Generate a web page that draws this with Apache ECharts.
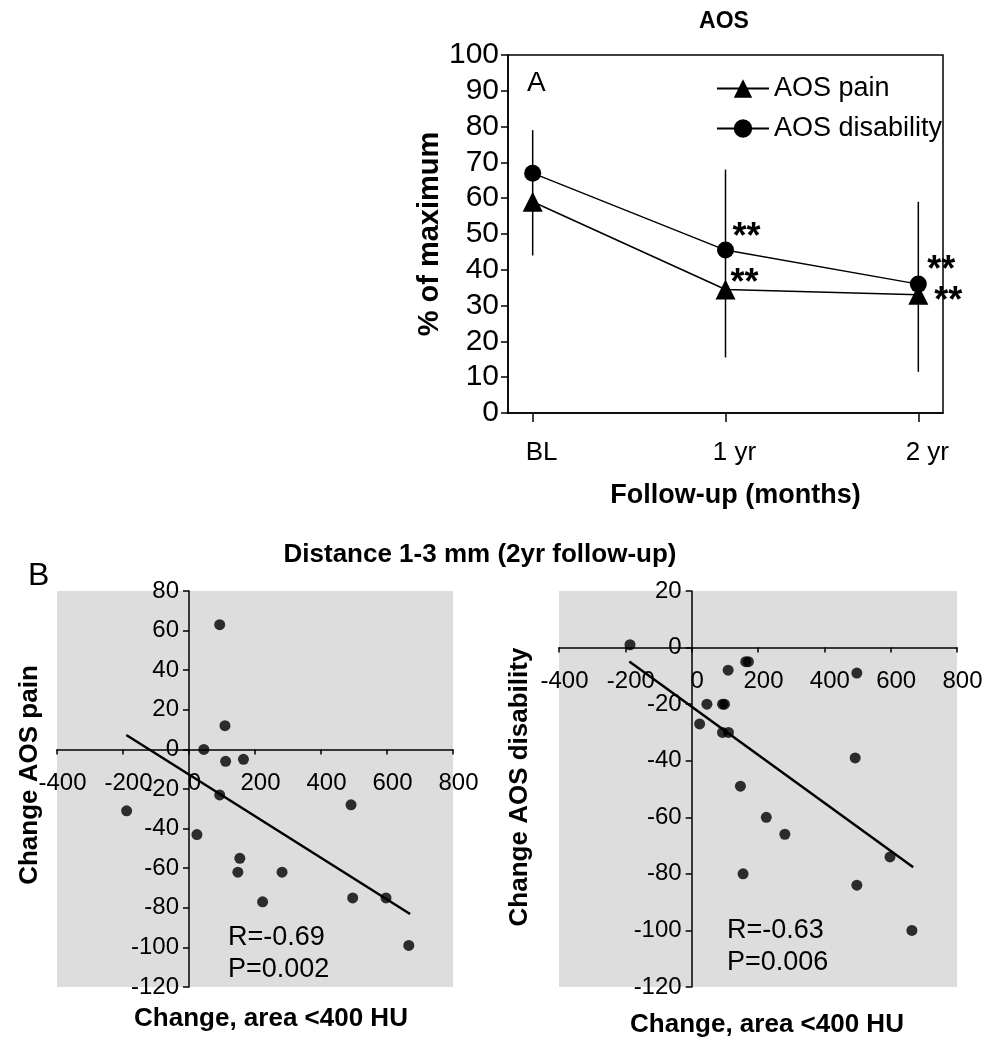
<!DOCTYPE html>
<html>
<head>
<meta charset="utf-8">
<script src="https://cdn.jsdelivr.net/npm/echarts@6/dist/echarts.min.js"></script>
<style>html,body{margin:0;padding:0;background:#fff}#c{width:995px;height:1050px}</style>
</head>
<body>
<div id="c"></div>
<script>
// ---- Panel A data ----
const tickLabels = ['BL', '1 yr', '2 yr'];
const followUp = [0, 1, 2];
const painMean = [59, 34.5, 33];
const disabilityMean = [67, 45.5, 36];
const disabilityUpper = [79, 68, 59];
const painLower = [44, 15.5, 11.5];
const painSig = ['', '**', '**'];
const disabilitySig = ['', '**', '**'];

// ---- Panel B data ----
const painX = [93, 109, 45, 111, 165, 93, -189, 24, 154, 148, 282, 223, 491, 496, 597, 666];
const painY = [63, 12, 0, -6, -5, -23, -31, -43, -55, -62, -62, -77, -28, -75, -75, -99];
const painTrendX = [-190, 670];
const painTrendY = [7.3, -83.1];
const painStats = ['R=-0.69', 'P=0.002'];

const disX = [-186, 163, 171, 110, 498, 46, 93, 99, 24, 93, 111, 493, 147, 225, 281, 598, 155, 498, 664];
const disY = [1, -5, -5, -8, -9, -20, -20, -20, -27, -30, -30, -39, -49, -60, -66, -74, -80, -84, -100];
const disTrendX = [-188, 668];
const disTrendY = [-4.9, -77.7];
const disStats = ['R=-0.63', 'P=0.006'];

const xRange = [-400, 800];
const painRange = [-120, 80];
const disRange = [-120, 20];

// ---- styling ----
const FONT = "'Liberation Sans', Arial, sans-serif";
const painSigOffset = [[0, 0], [19, -5], [30, 7]];
const disSigOffset = [[0, 0], [21, -12], [23, -13]];
const sigLabel = (txt, off) => ({
  show: !!txt, formatter: txt, position: 'inside', offset: off,
  fontSize: 36, fontWeight: 'bold', color: '#000', fontFamily: FONT
});

const gridsB = [
  {left: 57, top: 591, width: 396, height: 396},
  {left: 559, top: 591, width: 398, height: 396}
];

const chart = echarts.init(document.getElementById('c'), null, {renderer: 'canvas'});

const numLabel = (size, margin, extra) => Object.assign({color: '#000', fontSize: size, fontFamily: FONT, margin: margin}, extra || {});

// axes crossing at zero: shift each axis line to the other axis' zero
const scatterX = (grid, yr) => ({
  gridIndex: grid, type: 'value', min: xRange[0], max: xRange[1], interval: 200,
  position: 'bottom',
  offset: -(0 - yr[0]) / (yr[1] - yr[0]) * gridsB[grid - 1].height,
  axisLine: {show: true, onZero: false, lineStyle: {color: '#000', width: 1.5}},
  axisTick: {show: true, length: 5, lineStyle: {color: '#000', width: 1.5}},
  axisLabel: numLabel(24, 22, {padding: [0, 0, 0, 11]}),
  splitLine: {show: false}
});
const scatterY = (grid, yr) => ({
  gridIndex: grid, type: 'value', min: yr[0], max: yr[1], interval: 20,
  position: 'left',
  offset: -(0 - xRange[0]) / (xRange[1] - xRange[0]) * gridsB[grid - 1].width,
  axisLine: {show: true, onZero: false, lineStyle: {color: '#000', width: 1.5}},
  axisTick: {show: true, length: 6, lineStyle: {color: '#000', width: 1.5}},
  axisLabel: numLabel(24, 10, {padding: [9, 0, 0, 0]}),
  splitLine: {show: false}
});

const option = {
  animation: false,
  backgroundColor: '#fff',
  textStyle: {fontFamily: FONT},
  title: [
    {text: 'AOS', left: 724, top: 10, textAlign: 'center', padding: 0,
     textStyle: {fontSize: 23, fontWeight: 'bold', color: '#000', fontFamily: FONT}},
    {text: 'Distance 1-3 mm (2yr follow-up)', left: 480, top: 542, textAlign: 'center', padding: 0,
     textStyle: {fontSize: 26, fontWeight: 'bold', color: '#000', fontFamily: FONT}}
  ],
  legend: {
    data: ['AOS pain', 'AOS disability'],
    orient: 'vertical', left: 716, top: 75, padding: 0,
    itemWidth: 52, itemHeight: 23, itemGap: 13,
    textStyle: {fontSize: 27, color: '#000', fontFamily: FONT}
  },
  grid: [
    {left: 508, top: 55, width: 435, height: 358, show: true, borderColor: '#000', borderWidth: 1.5, backgroundColor: 'transparent'},
    Object.assign({show: true, borderWidth: 0, backgroundColor: '#dddddd'}, gridsB[0]),
    Object.assign({show: true, borderWidth: 0, backgroundColor: '#dddddd'}, gridsB[1])
  ],
  xAxis: [
    {gridIndex: 0, type: 'value', min: -0.128, max: 2.128,
     axisLine: {show: true, onZero: false, lineStyle: {color: '#000', width: 1.5}},
     axisTick: {show: true, length: 9, customValues: followUp, lineStyle: {color: '#000', width: 1.5}},
     axisLabel: numLabel(26, 27, {customValues: followUp, padding: [0, 0, 0, 18], formatter: v => tickLabels[Math.round(v)]}),
     splitLine: {show: false},
     name: 'Follow-up (months)', nameLocation: 'middle', nameGap: 69,
     nameTextStyle: {fontSize: 27, fontWeight: 'bold', color: '#000', fontFamily: FONT, padding: [0, 0, 0, 20]}},
    scatterX(1, painRange),
    scatterX(2, disRange)
  ],
  yAxis: [
    {gridIndex: 0, type: 'value', min: 0, max: 100, interval: 10,
     axisLine: {show: true, onZero: false, lineStyle: {color: '#000', width: 1.5}},
     axisTick: {show: true, length: 7, lineStyle: {color: '#000', width: 1.5}},
     axisLabel: numLabel(30, 9),
     splitLine: {show: false},
     name: '% of maximum', nameLocation: 'middle', nameGap: 64, nameRotate: 90,
     nameTextStyle: {fontSize: 29, fontWeight: 'bold', color: '#000', fontFamily: FONT}},
    scatterY(1, painRange),
    scatterY(2, disRange)
  ],
  series: [
    {type: 'custom', xAxisIndex: 0, yAxisIndex: 0, z: 1, silent: true,
     data: followUp.map((x, i) => [x, painLower[i], disabilityUpper[i]]),
     encode: {x: 0, y: [1, 2]},
     renderItem: (params, api) => {
       const lo = api.coord([api.value(0), api.value(1)]);
       const hi = api.coord([api.value(0), api.value(2)]);
       return {type: 'line', shape: {x1: lo[0], y1: lo[1], x2: hi[0], y2: hi[1]}, style: {stroke: '#000', lineWidth: 1.5}};
     }},
    {name: 'AOS pain', type: 'line', xAxisIndex: 0, yAxisIndex: 0, z: 3,
     symbol: 'triangle', symbolSize: 20, color: '#000',
     itemStyle: {color: '#000'}, lineStyle: {color: '#000', width: 1.5},
     data: followUp.map((x, i) => ({value: [x, painMean[i]], label: sigLabel(painSig[i], painSigOffset[i])}))},
    {name: 'AOS disability', type: 'line', xAxisIndex: 0, yAxisIndex: 0, z: 3,
     symbol: 'circle', symbolSize: 17, color: '#000',
     itemStyle: {color: '#000'}, lineStyle: {color: '#000', width: 1.5},
     data: followUp.map((x, i) => ({value: [x, disabilityMean[i]], label: sigLabel(disabilitySig[i], disSigOffset[i])}))},

    {type: 'scatter', xAxisIndex: 1, yAxisIndex: 1, symbolSize: 11, itemStyle: {color: '#000'},
     data: painX.map((x, i) => [x, painY[i]])},
    {type: 'line', xAxisIndex: 1, yAxisIndex: 1, symbol: 'none', lineStyle: {color: '#000', width: 2.5},
     data: painTrendX.map((x, i) => [x, painTrendY[i]])},

    {type: 'scatter', xAxisIndex: 2, yAxisIndex: 2, symbolSize: 11, itemStyle: {color: '#000'},
     data: disX.map((x, i) => [x, disY[i]])},
    {type: 'line', xAxisIndex: 2, yAxisIndex: 2, symbol: 'none', lineStyle: {color: '#000', width: 2.5},
     data: disTrendX.map((x, i) => [x, disTrendY[i]])}
  ],
  graphic: [
    {type: 'text', left: 527, top: 69, style: {text: 'A', fontSize: 28, fill: '#000', fontFamily: FONT}},
    {type: 'text', left: 28, top: 560, style: {text: 'B', fontSize: 32, fill: '#000', fontFamily: FONT}},
    {type: 'text', left: 228, top: 924, style: {text: painStats[0], fontSize: 27, fill: '#000', fontFamily: FONT}},
    {type: 'text', left: 228, top: 956, style: {text: painStats[1], fontSize: 27, fill: '#000', fontFamily: FONT}},
    {type: 'text', left: 727, top: 917, style: {text: disStats[0], fontSize: 27, fill: '#000', fontFamily: FONT}},
    {type: 'text', left: 727, top: 949, style: {text: disStats[1], fontSize: 27, fill: '#000', fontFamily: FONT}},
    {type: 'text', x: 271, y: 1019, style: {text: 'Change, area <400 HU', fontSize: 26, fontWeight: 'bold', fill: '#000', fontFamily: FONT, align: 'center', verticalAlign: 'middle'}},
    {type: 'text', x: 767, y: 1025, style: {text: 'Change, area <400 HU', fontSize: 26, fontWeight: 'bold', fill: '#000', fontFamily: FONT, align: 'center', verticalAlign: 'middle'}},
    {type: 'text', x: 30, y: 775, rotation: Math.PI / 2, style: {text: 'Change AOS pain', fontSize: 26, fontWeight: 'bold', fill: '#000', fontFamily: FONT, align: 'center', verticalAlign: 'middle'}},
    {type: 'text', x: 520, y: 787, rotation: Math.PI / 2, style: {text: 'Change AOS disability', fontSize: 26, fontWeight: 'bold', fill: '#000', fontFamily: FONT, align: 'center', verticalAlign: 'middle'}}
  ]
};
chart.setOption(option);
</script>
</body>
</html>
